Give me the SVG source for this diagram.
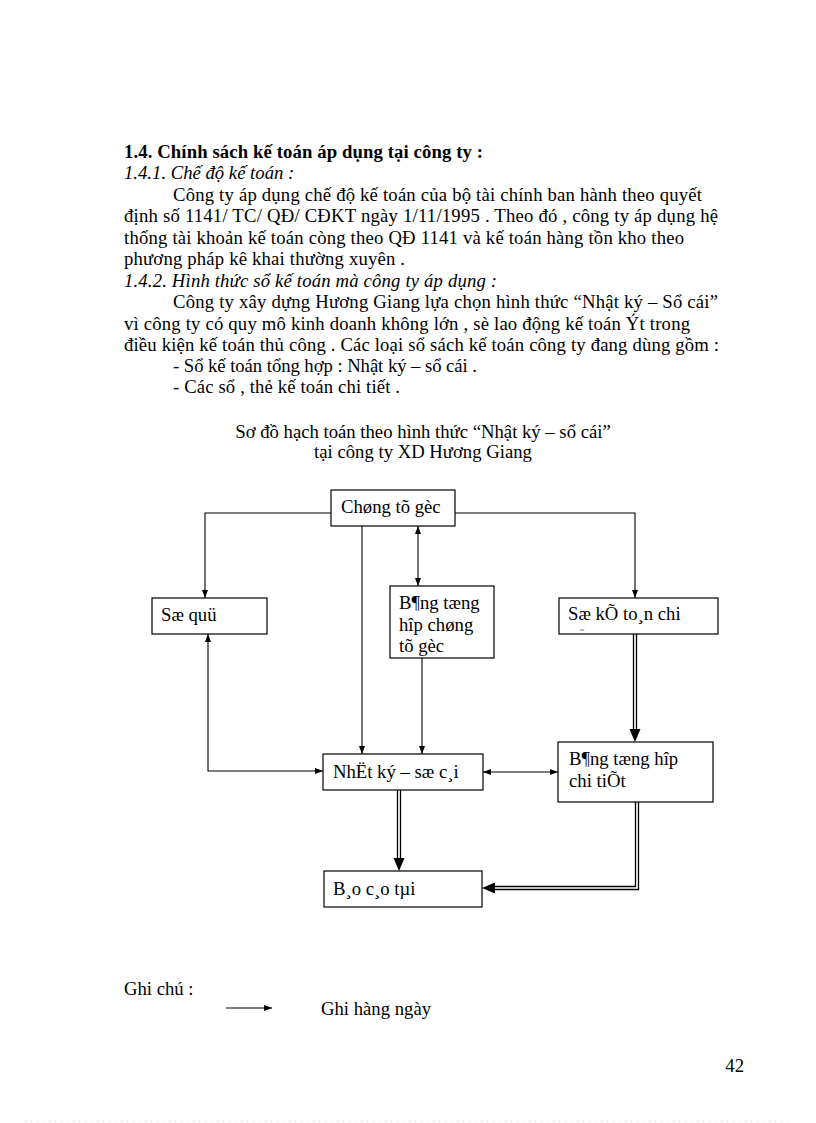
<svg xmlns="http://www.w3.org/2000/svg" width="816" height="1123" viewBox="0 0 816 1123">
<style>
text{font-family:"Liberation Serif","Times New Roman",serif;font-size:18.7px;fill:#000}
.b{font-weight:bold}
.i{font-style:italic}
.box{fill:#fff;stroke:#000;stroke-width:1.2}
.ln{fill:none;stroke:#000;stroke-width:1.1}
.dl{fill:none;stroke:#000;stroke-width:1.3}
</style>
<defs>
<marker id="ah" viewBox="0 0 8 6" refX="8" refY="3" markerWidth="8" markerHeight="6" markerUnits="userSpaceOnUse" orient="auto-start-reverse">
<path d="M0,0 L8,3 L0,6 z" fill="#000"/>
</marker>
</defs>
<rect width="816" height="1123" fill="#fff"/>

<g id="body-text">
<text x="124" y="158" class="b" textLength="359" lengthAdjust="spacing">1.4. Chính sách kế toán áp dụng tại công ty :</text>
<text x="124" y="179" class="i">1.4.1. Chế độ kế toán :</text>
<text x="173" y="201" textLength="529" lengthAdjust="spacing">Công ty áp dụng chế độ kế toán của bộ tài  chính ban hành theo quyết</text>
<text x="124" y="222" textLength="594" lengthAdjust="spacing">định số 1141/ TC/ QĐ/ CĐKT ngày 1/11/1995  . Theo đó , công ty áp dụng hệ</text>
<text x="124" y="244" textLength="560" lengthAdjust="spacing">thống tài khoản kế toán còng theo QĐ 1141  và kế toán hàng tồn kho theo</text>
<text x="124" y="265" textLength="281" lengthAdjust="spacing">phương pháp kê khai  thường xuyên .</text>
<text x="124" y="287" class="i" textLength="373" lengthAdjust="spacing">1.4.2. Hình thức sổ kế toán mà công ty áp dụng :</text>
<text x="173" y="308" textLength="545" lengthAdjust="spacing">Công ty xây dựng Hương Giang  lựa chọn hình thức “Nhật ký – Sổ cái”</text>
<text x="124" y="330" textLength="566" lengthAdjust="spacing">vì công ty có quy mô kinh doanh không lớn , sè lao động kế toán Ýt trong</text>
<text x="124" y="351" textLength="595" lengthAdjust="spacing">điều kiện kế toán thủ công . Các loại  sổ sách kế toán công ty đang dùng gồm :</text>
<text x="173" y="372" textLength="304" lengthAdjust="spacing">- Sổ kế toán tổng hợp : Nhật ký – sổ cái .</text>
<text x="173" y="393" textLength="227" lengthAdjust="spacing">- Các sổ , thẻ kế toán chi tiết .</text>
<text x="423" y="438" text-anchor="middle">Sơ đồ hạch toán theo hình thức “Nhật ký – sổ cái”</text>
<text x="423" y="458" text-anchor="middle">tại công ty XD Hương Giang</text>
</g>

<g id="connectors">
<path class="ln" d="M331,513 H205 V598" marker-end="url(#ah)"/>
<path class="ln" d="M455,513 H635 V598" marker-end="url(#ah)"/>
<path class="ln" d="M362,526 V754" marker-end="url(#ah)"/>
<path class="ln" d="M418,526 V586" marker-start="url(#ah)" marker-end="url(#ah)"/>
<path class="ln" d="M422,658 V754" marker-end="url(#ah)"/>
<path class="ln" d="M208,634 V771 H323" marker-start="url(#ah)" marker-end="url(#ah)"/>
<path class="ln" d="M483,772 H558" marker-start="url(#ah)" marker-end="url(#ah)"/>
<path class="dl" d="M633.5,634 V731 M636.5,634 V731"/>
<polygon points="629.5,729 640.5,729 635,742" fill="#000"/>
<path class="dl" d="M397.5,790 V860 M400.5,790 V860"/>
<polygon points="393.5,858 404.5,858 399,871" fill="#000"/>
<path class="dl" d="M638.5,802 V889.5 H493 M635.5,802 V886.5 H493"/>
<polygon points="495,882.5 495,893.5 482,888" fill="#000"/>
</g>

<g id="chung-tu-goc">
<rect class="box" x="331" y="490" width="124" height="36"/>
<text x="341" y="513">Chøng tõ gèc</text>
</g>
<g id="so-quy">
<rect class="box" x="152" y="598" width="115" height="36"/>
<text x="161" y="621">Sæ quü</text>
</g>
<g id="bang-tong-hop-chung-tu">
<rect class="box" x="390" y="586" width="104" height="72"/>
<text x="399" y="609">B¶ng tæng</text>
<text x="399" y="631">hîp chøng</text>
<text x="399" y="652">tõ gèc</text>
</g>
<g id="so-ke-toan-chi-tiet">
<rect class="box" x="559" y="598" width="159" height="36"/>
<text x="568" y="620">Sæ kÕ to¸n chi</text>
<text x="580" y="633" style="font-size:8px">~</text>
</g>
<g id="nhat-ky-so-cai">
<rect class="box" x="323" y="754" width="160" height="36"/>
<text x="333" y="778">NhËt ký – sæ c¸i</text>
</g>
<g id="bang-tong-hop-chi-tiet">
<rect class="box" x="558" y="742" width="155" height="60"/>
<text x="569" y="765">B¶ng tæng hîp</text>
<text x="569" y="787">chi tiÕt</text>
</g>
<g id="bao-cao-tai-chinh">
<rect class="box" x="324" y="871" width="158" height="36"/>
<text x="333" y="895">B¸o c¸o tµi</text>
</g>

<g id="legend">
<text x="124" y="995">Ghi chú :</text>
<line class="ln" x1="226" y1="1008" x2="272" y2="1008" marker-end="url(#ah)"/>
<text x="321" y="1015">Ghi hàng ngày</text>
<text x="744" y="1072" text-anchor="end">42</text>
</g>
<line x1="25" y1="1121" x2="792" y2="1121" stroke="#ccc" stroke-width="1" stroke-dasharray="1,5"/>
</svg>
